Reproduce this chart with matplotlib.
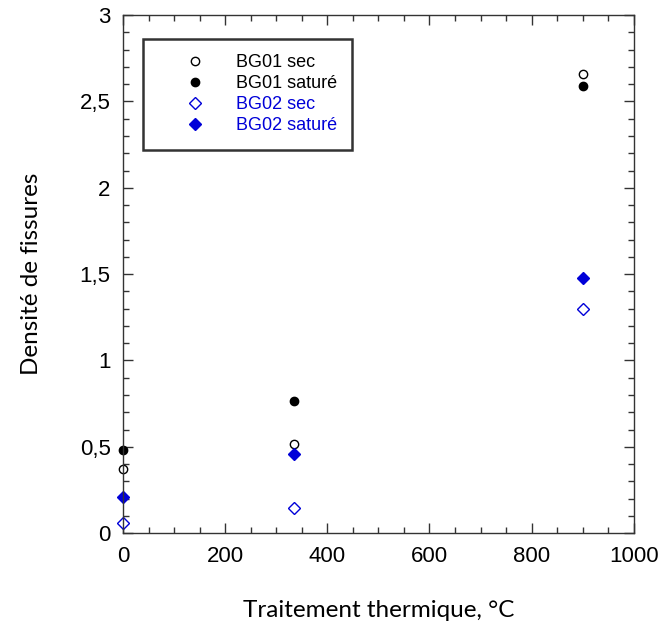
import matplotlib.pyplot as plt
from matplotlib.ticker import MultipleLocator, FuncFormatter

# ---- données ----
temperatures = [0, 334, 900]
bg01_sec = [0.374, 0.516, 2.66]
bg01_sature = [0.483, 0.767, 2.587]
bg02_sec = [0.058, 0.146, 1.297]
bg02_sature = [0.21, 0.457, 1.48]

BLUE = '#0000D8'

plt.rcParams['font.family'] = ['Liberation Sans', 'DejaVu Sans']

fig = plt.figure(figsize=(6.65, 6.28), dpi=100)
ax = fig.add_axes([0.185, 0.151, 0.768, 0.825])

ax.plot(temperatures, bg01_sec, 'o', mfc='white', mec='black', ms=6, mew=1, label='BG01 sec', clip_on=False)
ax.plot(temperatures, bg01_sature, 'o', mfc='black', mec='black', ms=6, mew=1, label='BG01 saturé', clip_on=False)
ax.plot(temperatures, bg02_sec, 'D', mfc='white', mec=BLUE, ms=6.5, mew=1, label='BG02 sec', clip_on=False)
ax.plot(temperatures, bg02_sature, 'D', mfc=BLUE, mec=BLUE, ms=6.5, mew=1, label='BG02 saturé', clip_on=False)

ax.set_xlim(0, 1000)
ax.set_ylim(0, 3)
ax.xaxis.set_major_locator(MultipleLocator(200))
ax.xaxis.set_minor_locator(MultipleLocator(50))
ax.yaxis.set_major_locator(MultipleLocator(0.5))
ax.yaxis.set_minor_locator(MultipleLocator(0.1))
# virgule décimale
ax.yaxis.set_major_formatter(FuncFormatter(lambda v, p: ('%g' % v).replace('.', ',')))

ax.tick_params(which='both', direction='in', top=True, right=True, labelsize=16, pad=9, color='#333333')
ax.tick_params(which='major', length=7, width=1)
ax.tick_params(which='minor', length=4, width=1)
for sp in ax.spines.values():
    sp.set_linewidth(1)
    sp.set_color('#333333')

ax.set_xlabel('Traitement thermique, °C', family=['Lato', 'DejaVu Sans'], fontsize=17.5, labelpad=24)
ax.set_ylabel('Densité de fissures', family=['Lato', 'DejaVu Sans'], fontsize=17.5, labelpad=27)

leg = ax.legend(loc='upper left', bbox_to_anchor=(0.039, 0.954), borderaxespad=0,
                fontsize=13, frameon=True, fancybox=False, borderpad=0.85,
                handlelength=4.06, handletextpad=0.24, labelspacing=0.22,
                labelcolor=['black', 'black', BLUE, BLUE])
leg.get_frame().set_edgecolor('black')
leg.get_frame().set_linewidth(1.8)

fig.savefig('out.png', dpi=100)
